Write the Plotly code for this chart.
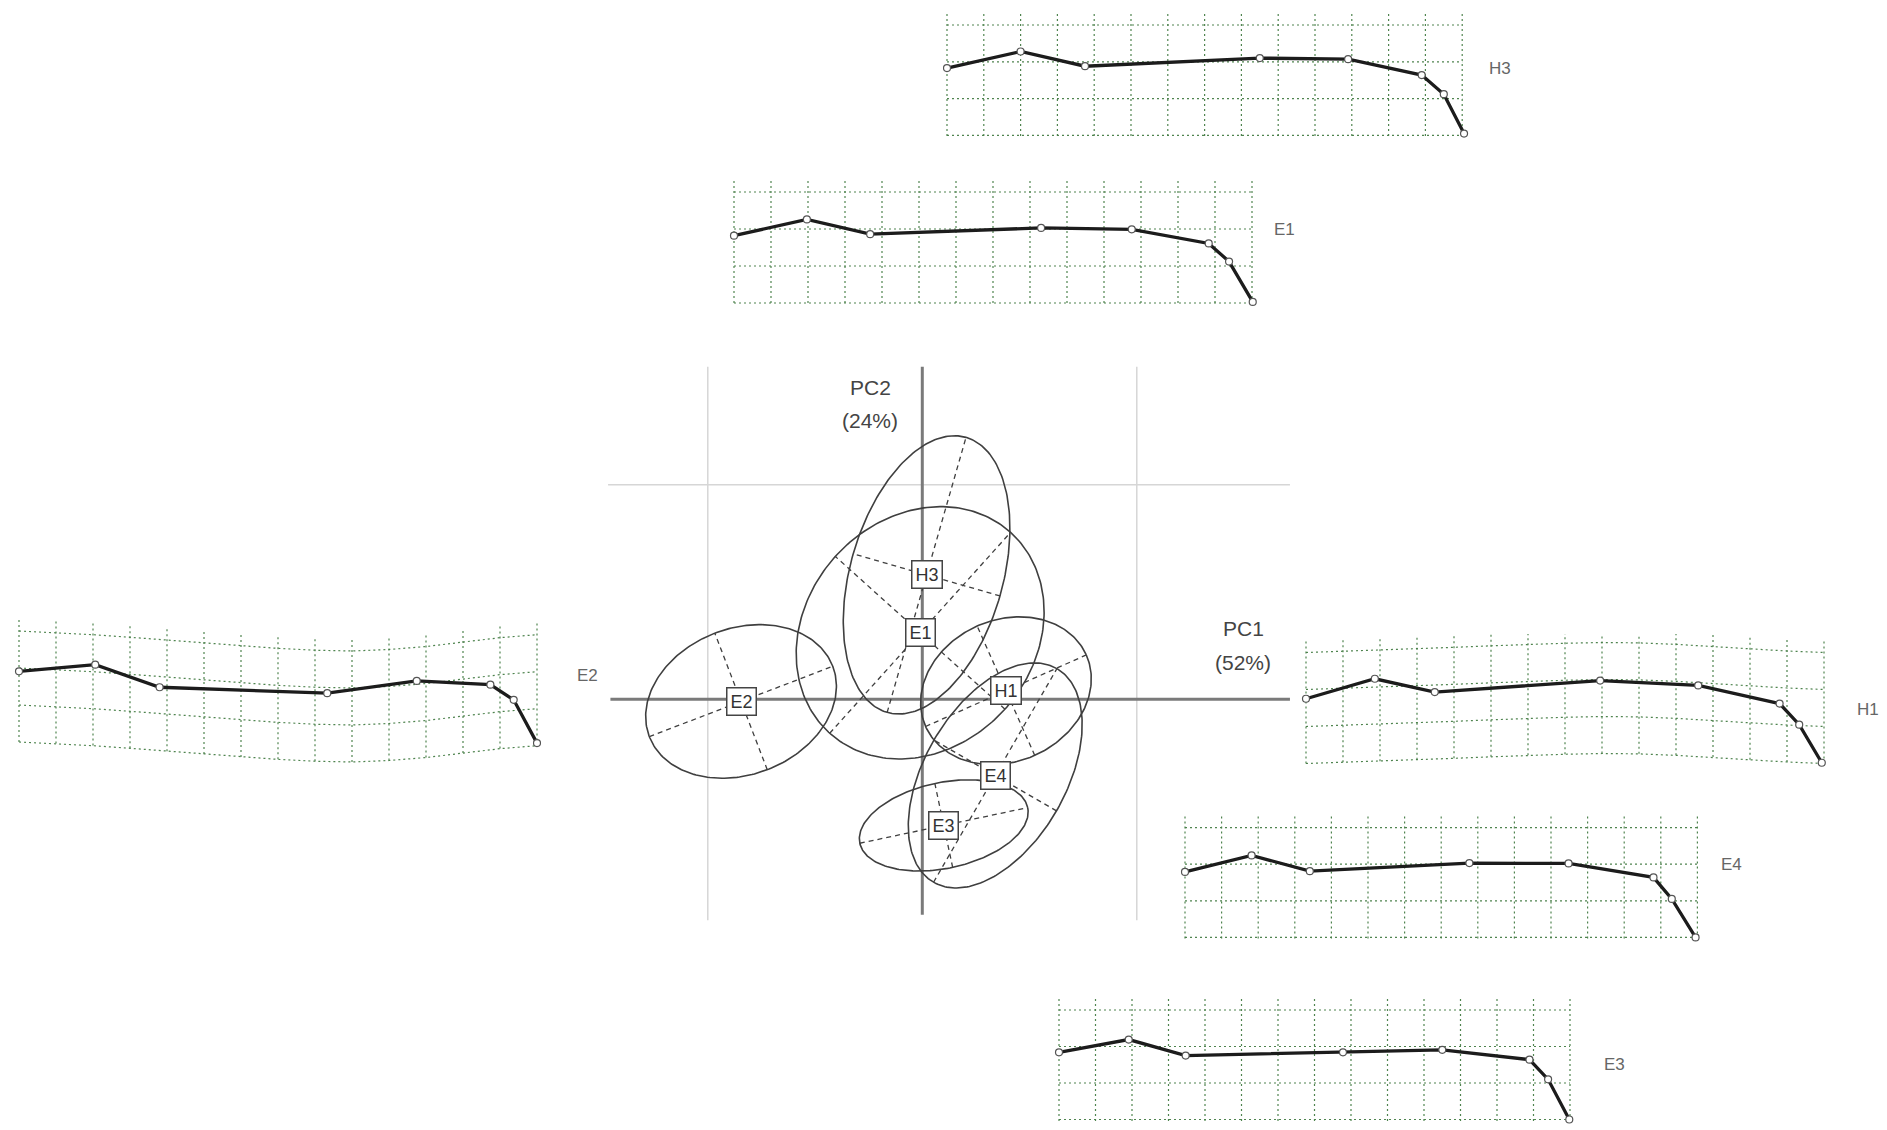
import numpy as np
import plotly.graph_objects as go

W, H = 1887, 1130
OFF = 8                      # default page margin of the html body
FW, FH = W - OFF, H - OFF    # figure size that fits in the window

# ---------------- PCA ellipse data (PC1, PC2 units) ----------------
groups = ["E2", "E1", "H3", "H1", "E4", "E3"]
center_x = [-0.845, -0.01, 0.02, 0.39, 0.34, 0.10]
center_y = [-0.01, 0.31, 0.58, 0.04, -0.355, -0.588]
semi_major = [0.458, 0.63, 0.667, 0.41, 0.575, 0.40]
semi_minor = [0.341, 0.532, 0.356, 0.33, 0.33, 0.20]
angle_deg = [21, 48, 74, 24, 60, 12]

pc1_text = ["PC1", "(52%)"]
pc2_text = ["PC2", "(24%)"]

# ---------------- deformation grids (cell units) ----------------
panel_names = ["H3", "E1", "E2", "H1", "E4", "E3"]
n_cols = 14
n_rows = 3
lm_x = {
    "H3": [0, 2.0, 3.75, 8.5, 10.9, 12.9, 13.5, 14.05],
    "E1": [0, 1.97, 3.68, 8.3, 10.75, 12.83, 13.38, 14.02],
    "E2": [0, 2.06, 3.8, 8.33, 10.75, 12.74, 13.37, 14.0],
    "H1": [0, 1.86, 3.48, 7.95, 10.6, 12.8, 13.33, 13.94],
    "E4": [0, 1.82, 3.41, 7.77, 10.48, 12.8, 13.3, 13.95],
    "E3": [0, 1.91, 3.47, 7.78, 10.5, 12.89, 13.4, 13.98],
}
lm_y = {
    "H3": [1.17, 0.72, 1.12, 0.9, 0.93, 1.36, 1.88, 2.95],
    "E1": [1.18, 0.74, 1.14, 0.97, 1.01, 1.39, 1.88, 2.97],
    "E2": [1.09, 0.91, 1.52, 1.68, 1.35, 1.45, 1.86, 3.03],
    "H1": [1.25, 0.71, 1.07, 0.76, 0.89, 1.38, 1.95, 2.98],
    "E4": [1.21, 0.76, 1.19, 0.97, 0.98, 1.36, 1.95, 3.0],
    "E3": [1.16, 0.81, 1.25, 1.16, 1.09, 1.36, 1.9, 3.0],
}
# vertical displacement of the grid at each column (cell units, + = down)
grid_sag = {
    "H3": [0] * 15,
    "E1": [0] * 15,
    "E2": [0, 0.04, 0.1, 0.17, 0.25, 0.33, 0.41, 0.47, 0.52, 0.54, 0.5, 0.42, 0.3, 0.18, 0.1],
    "H1": [0, -0.03, -0.06, -0.1, -0.14, -0.18, -0.22, -0.25, -0.27, -0.26, -0.22, -0.17, -0.1, -0.04, 0],
    "E4": [0] * 15,
    "E3": [0] * 15,
}

# ---------------- layout placement (window pixels) ----------------
# panel: (left grid line x, top grid line y, cell size, y-range max)
panel_place = {
    "H3": (947, 25, 36.8, 3.3),
    "E1": (734, 192, 37.0, 3.3),
    "E2": (19, 631, 37.0, 3.75),
    "H1": (1306, 652.5, 37.0, 3.3),
    "E4": (1185, 827.6, 36.6, 3.3),
    "E3": (1059, 1010, 36.5, 3.2),
}
panel_label_pos = {
    "H3": (1500, 69), "E1": (1284, 229), "E2": (587, 675),
    "H1": (1868, 710), "E4": (1731, 864), "E3": (1614, 1064),
}

main_px = (600, 1300, 360, 930)       # x0, x1, ytop, ybottom
origin_px = (922.3, 699.3)
scale = 214.5


def fx(px):
    return (px - OFF) / FW


def fy(py):
    return 1 - (py - OFF) / FH


fig = go.Figure()

ELL_COL = "#3f3f3f"
AX_COL = "#7a7a7a"
GRID_COL = "#d6d6d6"
FONT = "Liberation Sans, Arial"

# main reference lines
fig.add_trace(go.Scatter(x=[-1, -1, None, 1, 1, None, -1.465, 1.714], y=[1.55, -1.03, None, 1.55, -1.03, None, 1, 1],
                         mode="lines", line=dict(color=GRID_COL, width=1.5), hoverinfo="skip", showlegend=False))
fig.add_trace(go.Scatter(x=[-1.454, 1.714, None, 0, 0], y=[0, 0, None, 1.55, -1.005],
                         mode="lines", line=dict(color=AX_COL, width=3), hoverinfo="skip", showlegend=False))

t = np.linspace(0, 2 * np.pi, 240)
for g, cx, cy, a, b, ang in zip(groups, center_x, center_y, semi_major, semi_minor, angle_deg):
    p = np.deg2rad(ang)
    ex = cx + a * np.cos(t) * np.cos(p) - b * np.sin(t) * np.sin(p)
    ey = cy + a * np.cos(t) * np.sin(p) + b * np.sin(t) * np.cos(p)
    fig.add_trace(go.Scatter(x=ex, y=ey, mode="lines", line=dict(color=ELL_COL, width=1.6),
                             hoverinfo="skip", showlegend=False))
    dx = [cx - a * np.cos(p), cx + a * np.cos(p), None, cx + b * np.sin(p), cx - b * np.sin(p)]
    dy = [cy - a * np.sin(p), cy + a * np.sin(p), None, cy - b * np.cos(p), cy + b * np.cos(p)]
    fig.add_trace(go.Scatter(x=dx, y=dy, mode="lines", line=dict(color=ELL_COL, width=1.3, dash="5px,4px"),
                             hoverinfo="skip", showlegend=False))
    fig.add_annotation(x=cx, y=cy, xref="x", yref="y", text=g, showarrow=False,
                       xanchor="center", yanchor="middle",
                       font=dict(family=FONT, size=18, color="#333"),
                       bgcolor="white", bordercolor="#444", borderwidth=1.5, borderpad=3)

layout = dict(
    width=FW, height=FH, margin=dict(l=0, r=0, t=0, b=0),
    paper_bgcolor="white", plot_bgcolor="rgba(0,0,0,0)", showlegend=False,
)
x0, x1, yt, yb = main_px
layout["xaxis"] = dict(domain=[fx(x0), fx(x1)], range=[(x0 - origin_px[0]) / scale, (x1 - origin_px[0]) / scale],
                       visible=False, fixedrange=True)
layout["yaxis"] = dict(domain=[fy(yb), fy(yt)], range=[(origin_px[1] - yb) / scale, (origin_px[1] - yt) / scale],
                       visible=False, fixedrange=True)

GRID_GREEN = "rgba(70,125,70,0.95)"
for i, name in enumerate(panel_names, start=2):
    ox, oy, c, ymax = panel_place[name]
    xmin, xmax, ymin = -0.6, 14.6, -0.5
    xd = [max(0, fx(ox + xmin * c)), min(1, fx(ox + xmax * c))]
    yd = [max(0, fy(oy + ymax * c)), min(1, fy(oy + ymin * c))]
    # recompute ranges in case of clipping so the pixel mapping stays exact
    xr = [((xd[0] * FW + OFF) - ox) / c, ((xd[1] * FW + OFF) - ox) / c]
    yr = [(((1 - yd[0]) * FH + OFF) - oy) / c, (((1 - yd[1]) * FH + OFF) - oy) / c]
    layout[f"xaxis{i}"] = dict(domain=xd, range=xr, visible=False, anchor=f"y{i}", fixedrange=True)
    layout[f"yaxis{i}"] = dict(domain=yd, range=yr, visible=False, anchor=f"x{i}", fixedrange=True)
    sag = grid_sag[name]
    gx, gy = [], []
    for r in range(n_rows + 1):
        for col in range(n_cols + 1):
            gx.append(col)
            gy.append(r + sag[col])
        gx.append(None)
        gy.append(None)
    for col in range(n_cols + 1):
        gx += [col, col, None]
        gy += [-0.3 + sag[col], n_rows + 0.05 + sag[col], None]
    fig.add_trace(go.Scatter(x=gx, y=gy, mode="lines", xaxis=f"x{i}", yaxis=f"y{i}",
                             line=dict(color=GRID_GREEN, width=1.2, dash="2px,3px"),
                             hoverinfo="skip", showlegend=False))
    fig.add_trace(go.Scatter(x=lm_x[name], y=lm_y[name], mode="lines+markers", xaxis=f"x{i}", yaxis=f"y{i}",
                             line=dict(color="#1c1c1c", width=3.3),
                             marker=dict(symbol="circle", size=7, color="white", line=dict(color="#555", width=1.2)),
                             hoverinfo="skip", showlegend=False))
    lx, ly = panel_label_pos[name]
    fig.add_annotation(x=fx(lx), y=fy(ly), xref="paper", yref="paper", text=name, showarrow=False,
                       xanchor="center", yanchor="middle",
                       font=dict(family=FONT, size=17, color="#666"))

fig.update_layout(**layout)

for txt, (px, py) in zip(pc2_text, [(870, 387.5), (870, 420)]):
    fig.add_annotation(x=fx(px), y=fy(py), xref="paper", yref="paper", text=txt, showarrow=False,
                       xanchor="center", yanchor="middle",
                       font=dict(family=FONT, size=21, color="#444"))
for txt, (px, py) in zip(pc1_text, [(1243, 628), (1243, 662)]):
    fig.add_annotation(x=fx(px), y=fy(py), xref="paper", yref="paper", text=txt, showarrow=False,
                       xanchor="center", yanchor="middle",
                       font=dict(family=FONT, size=21, color="#444"))

fig.write_html("out.html")
